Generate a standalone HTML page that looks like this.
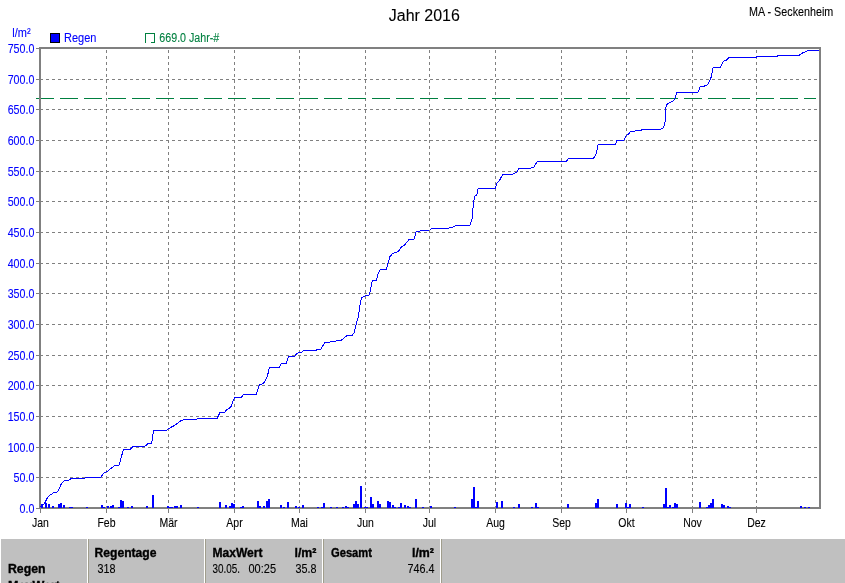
<!DOCTYPE html>
<html lang="de"><head><meta charset="utf-8"><title>Jahr 2016 - MA - Seckenheim</title>
<style>html,body{margin:0;padding:0;background:#fff;overflow:hidden}svg{display:block}text{font-family:"Liberation Sans",Arial,sans-serif;font-size:12.5px;stroke-width:0.1px}.b{fill:#0000ff;stroke:#0000ff}.g{fill:#008040;stroke:#008040}.k{fill:#000;stroke:#000}.h{font-weight:bold;font-size:12.5px;stroke-width:0.35px}.v{font-size:12.5px}</style>
</head><body>
<svg width="845" height="583" viewBox="0 0 845 583">
<rect x="0" y="0" width="845" height="583" fill="#ffffff"/>
<g shape-rendering="crispEdges" stroke="#808080" stroke-width="1" fill="none">
<line x1="40" y1="477.5" x2="819" y2="477.5" stroke-dasharray="3,3"/>
<line x1="40" y1="447.5" x2="819" y2="447.5" stroke-dasharray="3,3"/>
<line x1="40" y1="416.5" x2="819" y2="416.5" stroke-dasharray="3,3"/>
<line x1="40" y1="385.5" x2="819" y2="385.5" stroke-dasharray="3,3"/>
<line x1="40" y1="355.5" x2="819" y2="355.5" stroke-dasharray="3,3"/>
<line x1="40" y1="324.5" x2="819" y2="324.5" stroke-dasharray="3,3"/>
<line x1="40" y1="293.5" x2="819" y2="293.5" stroke-dasharray="3,3"/>
<line x1="40" y1="263.5" x2="819" y2="263.5" stroke-dasharray="3,3"/>
<line x1="40" y1="232.5" x2="819" y2="232.5" stroke-dasharray="3,3"/>
<line x1="40" y1="201.5" x2="819" y2="201.5" stroke-dasharray="3,3"/>
<line x1="40" y1="171.5" x2="819" y2="171.5" stroke-dasharray="3,3"/>
<line x1="40" y1="140.5" x2="819" y2="140.5" stroke-dasharray="3,3"/>
<line x1="40" y1="109.5" x2="819" y2="109.5" stroke-dasharray="3,3"/>
<line x1="40" y1="79.5" x2="819" y2="79.5" stroke-dasharray="3,3"/>
<line x1="106.5" y1="509" x2="106.5" y2="49" stroke-dasharray="3,3"/>
<line x1="168.5" y1="509" x2="168.5" y2="49" stroke-dasharray="3,3"/>
<line x1="234.5" y1="509" x2="234.5" y2="49" stroke-dasharray="3,3"/>
<line x1="299.5" y1="509" x2="299.5" y2="49" stroke-dasharray="3,3"/>
<line x1="365.5" y1="509" x2="365.5" y2="49" stroke-dasharray="3,3"/>
<line x1="429.5" y1="509" x2="429.5" y2="49" stroke-dasharray="3,3"/>
<line x1="495.5" y1="509" x2="495.5" y2="49" stroke-dasharray="3,3"/>
<line x1="561.5" y1="509" x2="561.5" y2="49" stroke-dasharray="3,3"/>
<line x1="626.5" y1="509" x2="626.5" y2="49" stroke-dasharray="3,3"/>
<line x1="692.5" y1="509" x2="692.5" y2="49" stroke-dasharray="3,3"/>
<line x1="756.5" y1="509" x2="756.5" y2="49" stroke-dasharray="3,3"/>
</g>
<line x1="36" y1="98.5" x2="816" y2="98.5" stroke="#008040" stroke-width="1" stroke-dasharray="18,6" shape-rendering="crispEdges"/>
<g shape-rendering="crispEdges" fill="#808080">
<rect x="39" y="47" width="782" height="2"/>
<rect x="39" y="507" width="782" height="2"/>
<rect x="39" y="47" width="2" height="462"/>
<rect x="819" y="47" width="2" height="462"/>
<rect x="36" y="508" width="3" height="1"/>
<rect x="36" y="477" width="3" height="1"/>
<rect x="36" y="447" width="3" height="1"/>
<rect x="36" y="416" width="3" height="1"/>
<rect x="36" y="385" width="3" height="1"/>
<rect x="36" y="355" width="3" height="1"/>
<rect x="36" y="324" width="3" height="1"/>
<rect x="36" y="293" width="3" height="1"/>
<rect x="36" y="263" width="3" height="1"/>
<rect x="36" y="232" width="3" height="1"/>
<rect x="36" y="201" width="3" height="1"/>
<rect x="36" y="171" width="3" height="1"/>
<rect x="36" y="140" width="3" height="1"/>
<rect x="36" y="109" width="3" height="1"/>
<rect x="36" y="79" width="3" height="1"/>
<rect x="36" y="48" width="3" height="1"/>
<rect x="40" y="509" width="1" height="4"/>
<rect x="106" y="509" width="1" height="4"/>
<rect x="168" y="509" width="1" height="4"/>
<rect x="234" y="509" width="1" height="4"/>
<rect x="299" y="509" width="1" height="4"/>
<rect x="365" y="509" width="1" height="4"/>
<rect x="429" y="509" width="1" height="4"/>
<rect x="495" y="509" width="1" height="4"/>
<rect x="561" y="509" width="1" height="4"/>
<rect x="626" y="509" width="1" height="4"/>
<rect x="692" y="509" width="1" height="4"/>
<rect x="756" y="509" width="1" height="4"/>
</g>
<g shape-rendering="crispEdges" fill="#0000ff">
<rect x="41" y="504" width="2" height="4"/>
<rect x="45" y="503" width="2" height="5"/>
<rect x="48" y="504" width="2" height="4"/>
<rect x="52" y="506" width="2" height="2"/>
<rect x="58" y="504" width="2" height="4"/>
<rect x="60" y="503" width="2" height="5"/>
<rect x="63" y="505" width="2" height="3"/>
<rect x="69" y="507" width="4" height="1"/>
<rect x="86" y="507" width="2" height="1"/>
<rect x="101" y="505" width="2" height="3"/>
<rect x="103" y="507" width="2" height="1"/>
<rect x="107" y="506" width="2" height="2"/>
<rect x="110" y="506" width="2" height="2"/>
<rect x="112" y="505" width="2" height="3"/>
<rect x="118" y="507" width="2" height="1"/>
<rect x="120" y="500" width="2" height="8"/>
<rect x="122" y="501" width="2" height="7"/>
<rect x="127" y="507" width="2" height="1"/>
<rect x="131" y="506" width="2" height="2"/>
<rect x="146" y="506" width="2" height="2"/>
<rect x="152" y="495" width="2" height="13"/>
<rect x="167" y="506" width="2" height="2"/>
<rect x="169" y="507" width="4" height="1"/>
<rect x="174" y="506" width="4" height="2"/>
<rect x="180" y="505" width="2" height="3"/>
<rect x="197" y="507" width="2" height="1"/>
<rect x="219" y="502" width="2" height="6"/>
<rect x="225" y="505" width="2" height="3"/>
<rect x="229" y="506" width="2" height="2"/>
<rect x="231" y="503" width="2" height="5"/>
<rect x="233" y="504" width="2" height="4"/>
<rect x="240" y="507" width="2" height="1"/>
<rect x="242" y="506" width="2" height="2"/>
<rect x="257" y="501" width="2" height="7"/>
<rect x="259" y="506" width="2" height="2"/>
<rect x="263" y="506" width="2" height="2"/>
<rect x="266" y="501" width="2" height="7"/>
<rect x="268" y="499" width="2" height="9"/>
<rect x="280" y="505" width="2" height="3"/>
<rect x="283" y="507" width="2" height="1"/>
<rect x="287" y="502" width="2" height="6"/>
<rect x="295" y="506" width="2" height="2"/>
<rect x="298" y="507" width="2" height="1"/>
<rect x="302" y="505" width="2" height="3"/>
<rect x="317" y="507" width="2" height="1"/>
<rect x="321" y="507" width="2" height="1"/>
<rect x="323" y="503" width="2" height="5"/>
<rect x="330" y="507" width="2" height="1"/>
<rect x="336" y="507" width="2" height="1"/>
<rect x="342" y="507" width="2" height="1"/>
<rect x="345" y="506" width="2" height="2"/>
<rect x="347" y="507" width="2" height="1"/>
<rect x="353" y="504" width="2" height="4"/>
<rect x="355" y="501" width="2" height="7"/>
<rect x="357" y="504" width="2" height="4"/>
<rect x="360" y="486" width="2" height="22"/>
<rect x="364" y="507" width="4" height="1"/>
<rect x="370" y="497" width="2" height="11"/>
<rect x="372" y="504" width="2" height="4"/>
<rect x="377" y="501" width="2" height="7"/>
<rect x="379" y="504" width="2" height="4"/>
<rect x="387" y="501" width="2" height="7"/>
<rect x="389" y="502" width="2" height="6"/>
<rect x="392" y="505" width="2" height="3"/>
<rect x="394" y="507" width="2" height="1"/>
<rect x="398" y="507" width="2" height="1"/>
<rect x="400" y="503" width="2" height="5"/>
<rect x="404" y="505" width="2" height="3"/>
<rect x="407" y="506" width="2" height="2"/>
<rect x="409" y="507" width="2" height="1"/>
<rect x="415" y="499" width="2" height="9"/>
<rect x="422" y="507" width="2" height="1"/>
<rect x="430" y="506" width="2" height="2"/>
<rect x="454" y="507" width="2" height="1"/>
<rect x="471" y="499" width="2" height="9"/>
<rect x="473" y="487" width="2" height="21"/>
<rect x="475" y="507" width="2" height="1"/>
<rect x="477" y="501" width="2" height="7"/>
<rect x="496" y="502" width="2" height="6"/>
<rect x="501" y="501" width="2" height="7"/>
<rect x="513" y="507" width="2" height="1"/>
<rect x="518" y="504" width="2" height="4"/>
<rect x="531" y="507" width="2" height="1"/>
<rect x="535" y="503" width="2" height="5"/>
<rect x="537" y="507" width="2" height="1"/>
<rect x="567" y="504" width="2" height="4"/>
<rect x="595" y="503" width="2" height="5"/>
<rect x="597" y="499" width="2" height="9"/>
<rect x="616" y="504" width="2" height="4"/>
<rect x="625" y="503" width="2" height="5"/>
<rect x="627" y="507" width="2" height="1"/>
<rect x="629" y="504" width="2" height="4"/>
<rect x="642" y="507" width="2" height="1"/>
<rect x="663" y="504" width="2" height="4"/>
<rect x="665" y="488" width="2" height="20"/>
<rect x="667" y="507" width="2" height="1"/>
<rect x="669" y="505" width="2" height="3"/>
<rect x="672" y="507" width="2" height="1"/>
<rect x="674" y="503" width="2" height="5"/>
<rect x="676" y="504" width="2" height="4"/>
<rect x="699" y="502" width="2" height="6"/>
<rect x="706" y="507" width="2" height="1"/>
<rect x="708" y="505" width="2" height="3"/>
<rect x="710" y="503" width="2" height="5"/>
<rect x="712" y="499" width="2" height="9"/>
<rect x="721" y="504" width="2" height="4"/>
<rect x="723" y="505" width="2" height="3"/>
<rect x="727" y="506" width="2" height="2"/>
<rect x="729" y="507" width="2" height="1"/>
<rect x="800" y="506" width="2" height="2"/>
<rect x="804" y="507" width="2" height="1"/>
<rect x="808" y="507" width="2" height="1"/>
</g>
<polyline points="40.5,507.5 41.5,504.5 43.5,504.5 44.5,503.5 45.5,501.5 46.5,499.5 47.5,497.5 48.5,496.5 49.5,495.5 50.5,494.5 51.5,494.5 52.5,493.5 53.5,492.5 57.2,492.1 59.4,488.4 61.5,483.4 64.3,480.5 68.6,480.1 71.5,478.4 85.0,478.1 86.4,477.4 100.6,477.3 103.5,473.4 107.0,471.6 114.9,465.3 119.1,465.0 121.3,457.0 123.4,449.9 130.5,449.2 132.7,446.5 144.8,446.4 148.3,443.5 151.7,443.1 153.6,430.5 166.8,430.2 169.2,428.3 175.6,424.8 181.3,420.5 184.9,419.5 196.3,419.2 197.7,418.5 217.2,418.4 219.8,412.7 224.7,412.3 226.9,409.4 229.0,408.8 231.1,406.3 233.3,399.9 234.7,397.5 241.5,397.3 243.2,394.6 256.3,394.3 257.8,389.2 259.6,384.9 263.2,383.5 265.3,380.7 267.4,376.4 269.3,367.6 279.2,367.3 281.4,363.6 286.3,363.3 288.5,356.6 294.6,356.4 297.3,353.1 301.3,352.4 303.4,350.4 316.2,350.2 317.7,349.4 320.9,349.1 324.8,342.7 329.8,342.3 331.2,341.4 335.4,341.3 336.9,340.6 341.1,340.4 344.7,337.3 347.5,335.4 352.2,335.3 354.0,332.7 355.7,326.3 356.8,322.0 358.5,316.4 359.6,307.8 361.4,297.6 365.7,295.7 369.2,295.0 370.7,289.8 371.4,283.3 372.8,280.8 376.4,280.2 378.5,272.7 380.2,269.5 386.3,269.3 388.0,263.4 389.9,256.7 392.3,253.9 394.6,252.5 398.4,251.6 401.5,246.8 404.1,245.6 409.1,239.5 414.1,239.2 416.2,231.7 418.3,231.4 422.6,230.2 429.7,230.0 431.9,228.5 448.2,228.3 453.9,226.8 456.4,225.4 470.2,225.1 472.1,218.3 473.5,202.7 474.7,196.3 476.8,194.8 478.2,188.4 495.3,188.2 497.0,183.0 499.6,180.2 502.7,174.5 512.7,174.2 516.7,172.3 519.1,168.5 530.5,168.2 534.0,167.1 537.3,161.4 566.5,161.2 568.2,158.8 580.0,158.5 593.5,158.2 596.1,154.0 598.2,144.5 615.3,144.2 617.0,140.5 624.1,140.2 626.5,135.1 628.8,133.8 630.5,131.4 634.8,131.0 636.2,130.3 641.2,130.1 642.6,129.4 660.4,129.3 663.3,127.7 664.7,124.9 665.4,119.2 666.1,105.6 668.2,103.5 673.2,100.9 675.4,97.8 676.8,92.4 698.0,92.4 700.3,86.4 705.7,85.9 708.2,83.9 710.7,78.9 712.0,73.1 713.2,67.5 720.2,67.2 724.0,60.7 726.4,60.2 729.4,57.2 756.3,57.1 757.9,56.4 777.0,56.2 778.6,55.4 799.3,55.2 801.8,53.3 805.1,51.9 808.5,50.4 819.0,50.4" fill="none" stroke="#0000ff" stroke-width="1" stroke-linejoin="round" shape-rendering="crispEdges"/>
<text x="424.3" y="21" text-anchor="middle" style="font-size:16px" class="k" textLength="71" lengthAdjust="spacingAndGlyphs">Jahr 2016</text>
<text x="749" y="16" class="k" textLength="84.3" lengthAdjust="spacingAndGlyphs">MA - Seckenheim</text>
<text class="b" transform="translate(34.4 513) scale(.855 1)" text-anchor="end">0.0</text>
<text class="b" transform="translate(34.4 482) scale(.855 1)" text-anchor="end">50.0</text>
<text class="b" transform="translate(34.4 452) scale(.855 1)" text-anchor="end">100.0</text>
<text class="b" transform="translate(34.4 421) scale(.855 1)" text-anchor="end">150.0</text>
<text class="b" transform="translate(34.4 390) scale(.855 1)" text-anchor="end">200.0</text>
<text class="b" transform="translate(34.4 360) scale(.855 1)" text-anchor="end">250.0</text>
<text class="b" transform="translate(34.4 329) scale(.855 1)" text-anchor="end">300.0</text>
<text class="b" transform="translate(34.4 298) scale(.855 1)" text-anchor="end">350.0</text>
<text class="b" transform="translate(34.4 268) scale(.855 1)" text-anchor="end">400.0</text>
<text class="b" transform="translate(34.4 237) scale(.855 1)" text-anchor="end">450.0</text>
<text class="b" transform="translate(34.4 206) scale(.855 1)" text-anchor="end">500.0</text>
<text class="b" transform="translate(34.4 176) scale(.855 1)" text-anchor="end">550.0</text>
<text class="b" transform="translate(34.4 145) scale(.855 1)" text-anchor="end">600.0</text>
<text class="b" transform="translate(34.4 114) scale(.855 1)" text-anchor="end">650.0</text>
<text class="b" transform="translate(34.4 84) scale(.855 1)" text-anchor="end">700.0</text>
<text class="b" transform="translate(34.4 53) scale(.855 1)" text-anchor="end">750.0</text>
<text class="b" transform="translate(12.3 37) scale(.88 1)">l/m²</text>
<rect x="50.5" y="33.5" width="9" height="9" fill="#0000ff" stroke="#000" stroke-width="1" shape-rendering="crispEdges"/>
<text class="b" transform="translate(64 42) scale(.88 1)">Regen</text>
<path d="M154.5,42.5 H151 M154.5,42.5 V33.5 H145.5 V43" fill="none" stroke="#008040" stroke-width="1" shape-rendering="crispEdges"/>
<text class="g" x="159.3" y="42" textLength="60" lengthAdjust="spacingAndGlyphs">669.0 Jahr-#</text>
<text transform="translate(40.5 527) scale(.84 1)" text-anchor="middle" class="k">Jan</text>
<text transform="translate(106.5 527) scale(.84 1)" text-anchor="middle" class="k">Feb</text>
<text transform="translate(168.5 527) scale(.84 1)" text-anchor="middle" class="k">Mär</text>
<text transform="translate(234.5 527) scale(.84 1)" text-anchor="middle" class="k">Apr</text>
<text transform="translate(299.5 527) scale(.84 1)" text-anchor="middle" class="k">Mai</text>
<text transform="translate(365.5 527) scale(.84 1)" text-anchor="middle" class="k">Jun</text>
<text transform="translate(429.5 527) scale(.84 1)" text-anchor="middle" class="k">Jul</text>
<text transform="translate(495.5 527) scale(.84 1)" text-anchor="middle" class="k">Aug</text>
<text transform="translate(561.5 527) scale(.84 1)" text-anchor="middle" class="k">Sep</text>
<text transform="translate(626.5 527) scale(.84 1)" text-anchor="middle" class="k">Okt</text>
<text transform="translate(692.5 527) scale(.84 1)" text-anchor="middle" class="k">Nov</text>
<text transform="translate(756.5 527) scale(.84 1)" text-anchor="middle" class="k">Dez</text>
<rect x="1" y="539" width="844" height="44" fill="#c0c0c0"/>
<g shape-rendering="crispEdges">
<rect x="87" y="539" width="1" height="44" fill="#ffffff"/><rect x="88" y="539" width="1" height="44" fill="#a09d8c"/>
<rect x="204" y="539" width="1" height="44" fill="#ffffff"/><rect x="205" y="539" width="1" height="44" fill="#a09d8c"/>
<rect x="322" y="539" width="1" height="44" fill="#ffffff"/><rect x="323" y="539" width="1" height="44" fill="#a09d8c"/>
<rect x="440" y="539" width="1" height="44" fill="#ffffff"/><rect x="441" y="539" width="1" height="44" fill="#a09d8c"/>
</g>
<g fill="#000" stroke="#000">
<text class="h" x="8" y="573" textLength="37.5" lengthAdjust="spacingAndGlyphs">Regen</text>
<text class="h" x="8" y="589.5" textLength="52" lengthAdjust="spacingAndGlyphs">MaxWert</text>
<text class="h" x="94.5" y="557" textLength="62" lengthAdjust="spacingAndGlyphs">Regentage</text>
<text class="v" x="97.5" y="573" textLength="18" lengthAdjust="spacingAndGlyphs">318</text>
<text class="h" x="212.5" y="557" textLength="50" lengthAdjust="spacingAndGlyphs">MaxWert</text>
<text class="h" x="294.5" y="557" textLength="22" lengthAdjust="spacingAndGlyphs">l/m²</text>
<text class="v" x="212.5" y="573" textLength="27.5" lengthAdjust="spacingAndGlyphs">30.05.</text>
<text class="v" x="248.5" y="573" textLength="27.5" lengthAdjust="spacingAndGlyphs">00:25</text>
<text class="v" x="295.5" y="573" textLength="21" lengthAdjust="spacingAndGlyphs">35.8</text>
<text class="h" x="331" y="557" textLength="41" lengthAdjust="spacingAndGlyphs">Gesamt</text>
<text class="h" x="412" y="557" textLength="22" lengthAdjust="spacingAndGlyphs">l/m²</text>
<text class="v" x="407.5" y="573" textLength="27" lengthAdjust="spacingAndGlyphs">746.4</text>
</g>
</svg></body></html>
